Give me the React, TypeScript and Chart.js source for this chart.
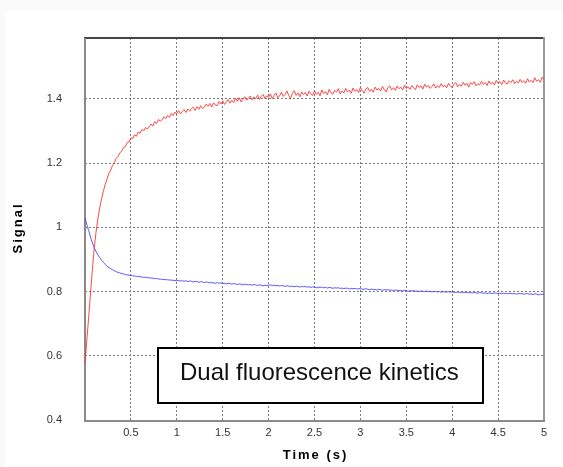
import React, { useEffect, useRef } from "react";
import { Chart, registerables } from "chart.js";

Chart.register(...registerables);

const TIMES = [
  0, 0.02, 0.04, 0.06, 0.08, 0.1, 0.12, 0.14, 0.16, 0.18, 0.2, 0.22, 0.24, 0.26, 0.28, 0.3, 0.32, 0.34, 0.36, 0.38, 0.4, 0.42, 0.44, 0.46, 0.48,
  0.5, 0.52, 0.54, 0.56, 0.58, 0.6, 0.62, 0.64, 0.66, 0.68, 0.7, 0.72, 0.74, 0.76, 0.78, 0.8, 0.82, 0.84, 0.86, 0.88, 0.9, 0.92, 0.94, 0.96, 0.98,
  1, 1.02, 1.04, 1.06, 1.08, 1.1, 1.12, 1.14, 1.16, 1.18, 1.2, 1.22, 1.24, 1.26, 1.28, 1.3, 1.32, 1.34, 1.36, 1.38, 1.4, 1.42, 1.44, 1.46, 1.48,
  1.5, 1.52, 1.54, 1.56, 1.58, 1.6, 1.62, 1.64, 1.66, 1.68, 1.7, 1.72, 1.74, 1.76, 1.78, 1.8, 1.82, 1.84, 1.86, 1.88, 1.9, 1.92, 1.94, 1.96, 1.98,
  2, 2.02, 2.04, 2.06, 2.08, 2.1, 2.12, 2.14, 2.16, 2.18, 2.2, 2.22, 2.24, 2.26, 2.28, 2.3, 2.32, 2.34, 2.36, 2.38, 2.4, 2.42, 2.44, 2.46, 2.48,
  2.5, 2.52, 2.54, 2.56, 2.58, 2.6, 2.62, 2.64, 2.66, 2.68, 2.7, 2.72, 2.74, 2.76, 2.78, 2.8, 2.82, 2.84, 2.86, 2.88, 2.9, 2.92, 2.94, 2.96, 2.98,
  3, 3.02, 3.04, 3.06, 3.08, 3.1, 3.12, 3.14, 3.16, 3.18, 3.2, 3.22, 3.24, 3.26, 3.28, 3.3, 3.32, 3.34, 3.36, 3.38, 3.4, 3.42, 3.44, 3.46, 3.48,
  3.5, 3.52, 3.54, 3.56, 3.58, 3.6, 3.62, 3.64, 3.66, 3.68, 3.7, 3.72, 3.74, 3.76, 3.78, 3.8, 3.82, 3.84, 3.86, 3.88, 3.9, 3.92, 3.94, 3.96, 3.98,
  4, 4.02, 4.04, 4.06, 4.08, 4.1, 4.12, 4.14, 4.16, 4.18, 4.2, 4.22, 4.24, 4.26, 4.28, 4.3, 4.32, 4.34, 4.36, 4.38, 4.4, 4.42, 4.44, 4.46, 4.48,
  4.5, 4.52, 4.54, 4.56, 4.58, 4.6, 4.62, 4.64, 4.66, 4.68, 4.7, 4.72, 4.74, 4.76, 4.78, 4.8, 4.82, 4.84, 4.86, 4.88, 4.9, 4.92, 4.94, 4.96, 4.98,
  5,
];

const RED_SIGNAL = [
  // 0.00 - 0.50
  0.576, 0.65, 0.72, 0.795, 0.868, 0.935, 0.985, 1.026, 1.06, 1.089, 1.112, 1.134, 1.151, 1.168, 1.179, 1.193, 1.202, 1.215, 1.221, 1.232,
  1.238, 1.249, 1.252, 1.264, 1.266, 1.279,
  // 0.52 - 1.00
  1.277, 1.289, 1.284, 1.297, 1.293, 1.305, 1.301, 1.311, 1.306, 1.314, 1.322, 1.316, 1.329, 1.324, 1.336, 1.331, 1.335, 1.345, 1.339, 1.349,
  1.343, 1.355, 1.348, 1.359, 1.353,
  // 1.02 - 2.00
  1.364, 1.354, 1.361, 1.367, 1.358, 1.369, 1.362, 1.371, 1.374, 1.364, 1.376, 1.368, 1.379, 1.371, 1.374, 1.384, 1.377, 1.386, 1.375, 1.388,
  1.381, 1.379, 1.392, 1.384, 1.394, 1.383, 1.391, 1.398, 1.387, 1.396, 1.389, 1.402, 1.393, 1.404, 1.391, 1.399, 1.407, 1.396, 1.403, 1.409,
  1.397, 1.406, 1.401, 1.412, 1.399, 1.408, 1.414, 1.402, 1.41, 1.405,
  // 2.02 - 3.00
  1.416, 1.401, 1.412, 1.419, 1.404, 1.41, 1.421, 1.408, 1.414, 1.425, 1.41, 1.402, 1.418, 1.426, 1.411, 1.419, 1.407, 1.422, 1.414, 1.42,
  1.409, 1.424, 1.416, 1.411, 1.426, 1.414, 1.421, 1.41, 1.428, 1.417, 1.423, 1.413, 1.43, 1.419, 1.415, 1.427, 1.421, 1.432, 1.416, 1.425,
  1.419, 1.433, 1.422, 1.428, 1.418, 1.434, 1.424, 1.429, 1.42, 1.436,
  // 3.02 - 4.00
  1.426, 1.418, 1.431, 1.436, 1.424, 1.43, 1.421, 1.437, 1.428, 1.433, 1.425, 1.439, 1.43, 1.422, 1.436, 1.441, 1.429, 1.435, 1.427, 1.44,
  1.432, 1.437, 1.428, 1.443, 1.433, 1.438, 1.43, 1.442, 1.435, 1.429, 1.444, 1.436, 1.441, 1.431, 1.446, 1.437, 1.442, 1.433, 1.439, 1.447,
  1.434, 1.441, 1.436, 1.448, 1.438, 1.443, 1.435, 1.449, 1.44, 1.436,
  // 4.02 - 5.00
  1.446, 1.451, 1.438, 1.445, 1.44, 1.452, 1.443, 1.449, 1.437, 1.451, 1.446, 1.454, 1.441, 1.448, 1.444, 1.455, 1.445, 1.451, 1.442, 1.456,
  1.447, 1.452, 1.444, 1.458, 1.449, 1.454, 1.445, 1.459, 1.45, 1.447, 1.457, 1.451, 1.46, 1.448, 1.455, 1.45, 1.461, 1.452, 1.457, 1.449,
  1.463, 1.453, 1.458, 1.451, 1.466, 1.455, 1.46, 1.452, 1.468, 1.461,
];

const BLUE_SIGNAL = [
  // 0.00 - 0.50
  1.03, 1.008, 0.99, 0.97, 0.952, 0.937, 0.925, 0.915, 0.906, 0.898, 0.891, 0.885, 0.879, 0.875, 0.871, 0.868, 0.865, 0.862, 0.86, 0.858,
  0.856, 0.855, 0.853, 0.852, 0.851, 0.85,
  // 0.52 - 1.00
  0.849, 0.849, 0.847, 0.848, 0.846, 0.846, 0.844, 0.845, 0.843, 0.843, 0.842, 0.842, 0.84, 0.841, 0.839, 0.839, 0.838, 0.838, 0.837, 0.837,
  0.836, 0.836, 0.835, 0.835, 0.834,
  // 1.02 - 2.00
  0.835, 0.833, 0.834, 0.832, 0.834, 0.831, 0.833, 0.832, 0.83, 0.832, 0.831, 0.829, 0.831, 0.83, 0.828, 0.83, 0.829, 0.827, 0.829, 0.827,
  0.826, 0.828, 0.826, 0.827, 0.825, 0.826, 0.824, 0.826, 0.825, 0.823, 0.825, 0.824, 0.822, 0.824, 0.823, 0.821, 0.823, 0.822, 0.821, 0.822,
  0.82, 0.822, 0.821, 0.819, 0.821, 0.82, 0.818, 0.82, 0.819, 0.82,
  // 2.02 - 3.00
  0.821, 0.819, 0.82, 0.818, 0.819, 0.817, 0.819, 0.818, 0.816, 0.818, 0.817, 0.816, 0.817, 0.815, 0.817, 0.816, 0.814, 0.816, 0.815, 0.816,
  0.814, 0.815, 0.813, 0.815, 0.814, 0.812, 0.814, 0.813, 0.814, 0.812, 0.813, 0.811, 0.813, 0.812, 0.81, 0.812, 0.811, 0.812, 0.81, 0.811,
  0.809, 0.811, 0.81, 0.808, 0.81, 0.809, 0.81, 0.808, 0.809, 0.809,
  // 3.02 - 4.00
  0.808, 0.807, 0.809, 0.807, 0.806, 0.808, 0.806, 0.807, 0.805, 0.807, 0.806, 0.804, 0.806, 0.805, 0.806, 0.804, 0.805, 0.803, 0.805, 0.804,
  0.803, 0.804, 0.802, 0.804, 0.803, 0.801, 0.803, 0.802, 0.803, 0.801, 0.802, 0.8, 0.802, 0.801, 0.8, 0.802, 0.8, 0.801, 0.799, 0.801,
  0.8, 0.799, 0.8, 0.798, 0.8, 0.799, 0.798, 0.8, 0.798, 0.799,
  // 4.02 - 5.00
  0.798, 0.797, 0.799, 0.797, 0.798, 0.796, 0.798, 0.797, 0.796, 0.797, 0.796, 0.798, 0.796, 0.795, 0.797, 0.796, 0.795, 0.796, 0.794, 0.796,
  0.795, 0.794, 0.796, 0.795, 0.794, 0.795, 0.793, 0.795, 0.794, 0.793, 0.795, 0.794, 0.793, 0.794, 0.792, 0.794, 0.793, 0.794, 0.792, 0.793,
  0.794, 0.792, 0.793, 0.791, 0.793, 0.792, 0.79, 0.792, 0.791, 0.793,
];

const X_TICKS = [0.5, 1, 1.5, 2, 2.5, 3, 3.5, 4, 4.5, 5];
const Y_TICKS = [0.4, 0.6, 0.8, 1, 1.2, 1.4];

const X_TITLE = "Time (s)";
const Y_TITLE = "Signal";
const NOTE = "Dual fluorescence kinetics";

const FONT = '"Liberation Sans", Arial, sans-serif';

export default function App() {
  const ref = useRef<HTMLCanvasElement>(null);

  useEffect(() => {
    if (!ref.current) return;

    const framePlugin = {
      id: "frame",
      beforeDatasetsDraw(chart: any) {
        const { ctx, chartArea: a } = chart;
        ctx.save();
        ctx.fillStyle = "#444444";
        ctx.fillRect(a.left - 1, a.top - 1, a.right - a.left + 2, 2);
        ctx.fillStyle = "#999999";
        ctx.fillRect(a.right - 1, a.top - 1, 2, a.bottom - a.top + 2);
        ctx.fillStyle = "#8a8a8a";
        ctx.fillRect(a.left - 1, a.top, 2, a.bottom - a.top + 2);
        ctx.fillRect(a.left - 1, a.bottom, a.right - a.left + 2, 2);
        ctx.restore();
      },
      afterDraw(chart: any) {
        const { ctx, chartArea: a } = chart;
        ctx.save();
        ctx.fillStyle = "#000";
        ctx.font = `bold 13px ${FONT}`;
        (ctx as any).letterSpacing = "2px";
        ctx.textAlign = "center";
        ctx.textBaseline = "middle";
        ctx.fillText(X_TITLE, (a.left + a.right) / 2 + 1, 455);
        ctx.save();
        ctx.translate(18, (a.top + a.bottom) / 2);
        ctx.rotate(-Math.PI / 2);
        ctx.fillText(Y_TITLE, 1, 0);
        ctx.restore();
        (ctx as any).letterSpacing = "0px";
        const bx = 158, by = 348, bw = 325, bh = 55;
        ctx.fillStyle = "#ffffff";
        ctx.fillRect(bx, by, bw, bh);
        ctx.strokeStyle = "#000";
        ctx.lineWidth = 2;
        ctx.strokeRect(bx, by, bw, bh);
        ctx.fillStyle = "#000";
        ctx.fillRect(bx + bw, by, 1, bh + 1);
        ctx.fillRect(bx, by + bh, bw + 1, 1);
        ctx.font = `24px ${FONT}`;
        ctx.fillStyle = "#111";
        ctx.textAlign = "left";
        ctx.textBaseline = "alphabetic";
        ctx.fillText(NOTE, 180, 380);
        ctx.restore();
      },
    };

    const tickFont = { family: FONT, size: 11 };

    const chart = new Chart(ref.current, {
      type: "line",
      data: {
        datasets: [
          {
            data: TIMES.map((t, i) => ({ x: t, y: RED_SIGNAL[i] })),
            borderColor: "rgba(255, 40, 40, 0.85)",
            borderWidth: 1,
            pointRadius: 0,
            tension: 0,
            fill: false,
          },
          {
            data: TIMES.map((t, i) => ({ x: t, y: BLUE_SIGNAL[i] })),
            borderColor: "rgba(60, 60, 255, 0.85)",
            borderWidth: 1,
            pointRadius: 0,
            tension: 0,
            fill: false,
          },
        ],
      },
      options: {
        animation: false,
        responsive: false,
        maintainAspectRatio: false,
        layout: { padding: { left: 0, top: 38, right: 19, bottom: 0 } },
        plugins: { legend: { display: false }, tooltip: { enabled: false } },
        scales: {
          x: {
            type: "linear",
            min: 0,
            max: 5,
            afterFit(s: any) {
              s.height = 47;
            },
            afterBuildTicks(s: any) {
              s.ticks = X_TICKS.map((v) => ({ value: v }));
            },
            grid: { color: "#7a7a7a", lineWidth: 1, drawTicks: false },
            border: { display: false, dash: [2, 2] },
            ticks: {
              padding: 6,
              color: "#333",
              font: tickFont,
              maxRotation: 0,
              autoSkip: false,
              callback: (v: any) => String(v),
            },
          },
          y: {
            type: "linear",
            min: 0.4,
            max: 1.59,
            afterFit(s: any) {
              s.width = 85;
            },
            afterBuildTicks(s: any) {
              s.ticks = Y_TICKS.map((v) => ({ value: v }));
            },
            grid: { color: "#7a7a7a", lineWidth: 1, drawTicks: false },
            border: { display: false, dash: [2, 2] },
            ticks: {
              padding: 23,
              color: "#333",
              font: tickFont,
              autoSkip: false,
              callback: (v: any) => String(v),
            },
          },
        },
      },
      plugins: [framePlugin],
    } as any);

    return () => chart.destroy();
  }, []);

  return (
    <div style={{ position: "absolute", left: 0, top: 0, width: 563, height: 467, background: "#fafafa", overflow: "hidden" }}>
      <div style={{ position: "absolute", left: 5, top: 10, right: 0, bottom: 0, background: "#ffffff" }} />
      <canvas
        ref={ref}
        width={563}
        height={467}
        style={{ position: "absolute", left: 0, top: 0, width: 563, height: 467 }}
      />
    </div>
  );
}
